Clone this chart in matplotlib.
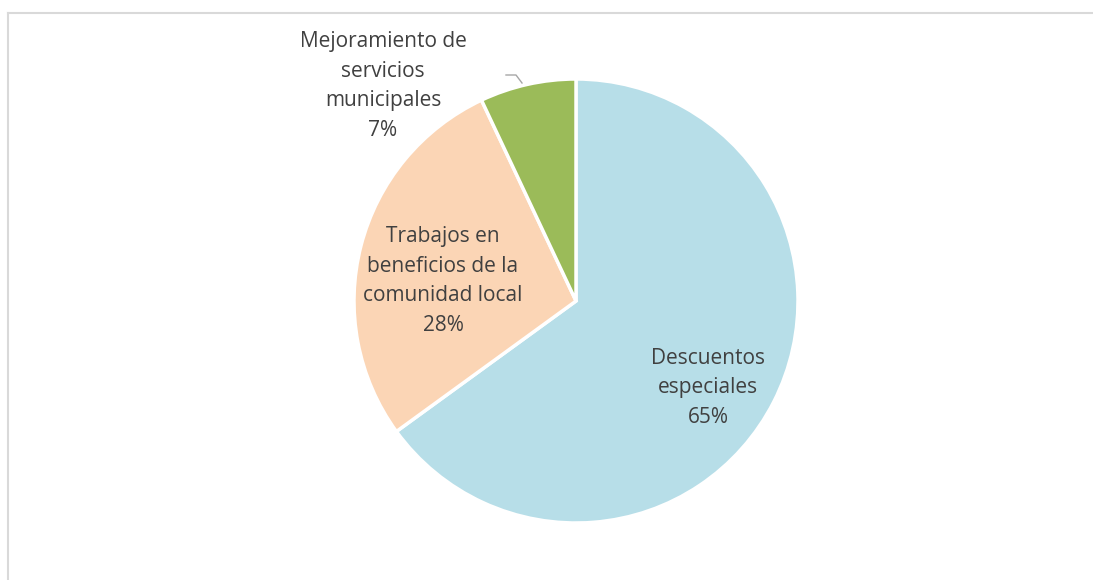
import matplotlib.pyplot as plt
from matplotlib.lines import Line2D

# datos del grafico
categorias = ['Descuentos\nespeciales', 'Trabajos en\nbeneficios de la\ncomunidad local',
              'Mejoramiento de\nservicios\nmunicipales']
porcentajes = [65, 28, 7]
colores = ['#B7DEE8', '#FBD5B5', '#9BBB59']

W, H = 1093, 580
fig = plt.figure(figsize=(W / 100, H / 100), dpi=100)
ax = fig.add_axes([0, 0, 1, 1])

# pastel en coordenadas de pixel
cx, cy, r = 576, H - 301, 222
ax.pie(porcentajes, colors=colores, startangle=90, counterclock=False,
       center=(cx, cy), radius=r, frame=True,
       wedgeprops=dict(edgecolor='white', linewidth=2.5))
ax.set_xlim(0, W)
ax.set_ylim(0, H)
ax.set_aspect('equal')
ax.axis('off')

# etiquetas
pos = [(708, 388), (443, 281), (383, 86)]
for cat, p, (x, y) in zip(categorias, porcentajes, pos):
    ax.text(x, H - y, cat + '\n' + str(p) + '%', ha='center', va='center',
            fontsize=15, color='#404040', family='Open Sans', linespacing=1.53)

# linea guia de la etiqueta pequena
ax.add_line(Line2D([506, 516, 522], [H - 75, H - 75, H - 83], color='#A6A6A6', lw=1))

# borde del grafico
borde = '#D9D9D9'
fig.add_artist(Line2D([8 / W, 1], [1 - 12.5 / H, 1 - 12.5 / H], color=borde, lw=1.5))
fig.add_artist(Line2D([8 / W, 8 / W], [0, 1 - 12.5 / H], color=borde, lw=1.5))

fig.savefig('out.png', dpi=100, facecolor='white')
